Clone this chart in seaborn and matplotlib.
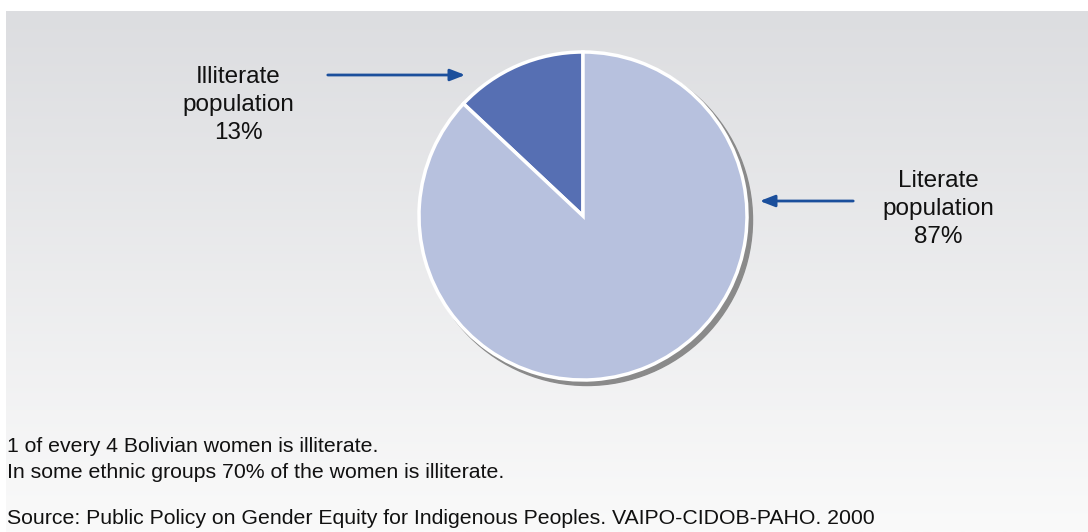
import numpy as np
import matplotlib
matplotlib.use('Agg')
import matplotlib.pyplot as plt
import matplotlib.patches as mpatches
import seaborn as sns

# chart data
groups = ['Illiterate population', 'Literate population']
shares = [13, 87]
wedge_colors = ['#566fb3', '#b7c1de']
notes = ['1 of every 4 Bolivian women is illiterate.',
         'In some ethnic groups 70% of the women is illiterate.']
source = 'Source: Public Policy on Gender Equity for Indigenous Peoples. VAIPO-CIDOB-PAHO. 2000'

sns.set_style('white')
plt.rcParams['font.family'] = ['Liberation Sans', 'DejaVu Sans']

W, H = 1088, 532
fig = plt.figure(figsize=(W / 100, H / 100), dpi=100)
ax = fig.add_axes([0, 0, 1, 1])

# grey-to-white background panel
top = np.array([220, 221, 224]) / 255
bottom = np.array([250, 250, 250]) / 255
t = np.linspace(0, 1, 256)[:, None]
grad = (top[None, :] * (1 - t) + bottom[None, :] * t)[:, None, :]
ax.imshow(grad, extent=[6, W, 0, H - 11], aspect='auto', zorder=0)

cx, cy, r = 583, H - 216, 164

# drop shadow behind the pie
ax.add_patch(mpatches.Circle((cx + 4, cy - 4), r + 1.5, color='#8a8a8a', zorder=1))

ax.pie(shares, colors=wedge_colors, startangle=90, counterclock=True,
       center=(cx, cy), radius=r,
       wedgeprops=dict(edgecolor='white', linewidth=2.5, zorder=2))

ax.set_xlim(0, W)
ax.set_ylim(0, H)
ax.set_aspect('equal')
ax.axis('off')

arrow_kw = dict(arrowstyle='-|>,head_length=0.9,head_width=0.35', color='#1b4f9c', lw=2)
ax.annotate('', xy=(468, H - 75), xytext=(325, H - 75), arrowprops=arrow_kw)
ax.annotate('', xy=(757, H - 201), xytext=(856, H - 201), arrowprops=arrow_kw)

ax.text(238, H - 105, groups[0].replace(' ', '\n') + f'\n{shares[0]}%', ha='center', va='center',
        fontsize=17.5, linespacing=1.35, color='#111111')
ax.text(938, H - 209, groups[1].replace(' ', '\n') + f'\n{shares[1]}%', ha='center', va='center',
        fontsize=17.5, linespacing=1.35, color='#111111')

ax.text(7, H - 447, notes[0], ha='left', va='center', fontsize=15.3, color='#111111')
ax.text(7, H - 472, notes[1], ha='left', va='center', fontsize=15.3, color='#111111')
ax.text(7, H - 519, source, ha='left', va='center', fontsize=15.3, color='#111111')

fig.savefig('out.png', dpi=100, facecolor='white')
